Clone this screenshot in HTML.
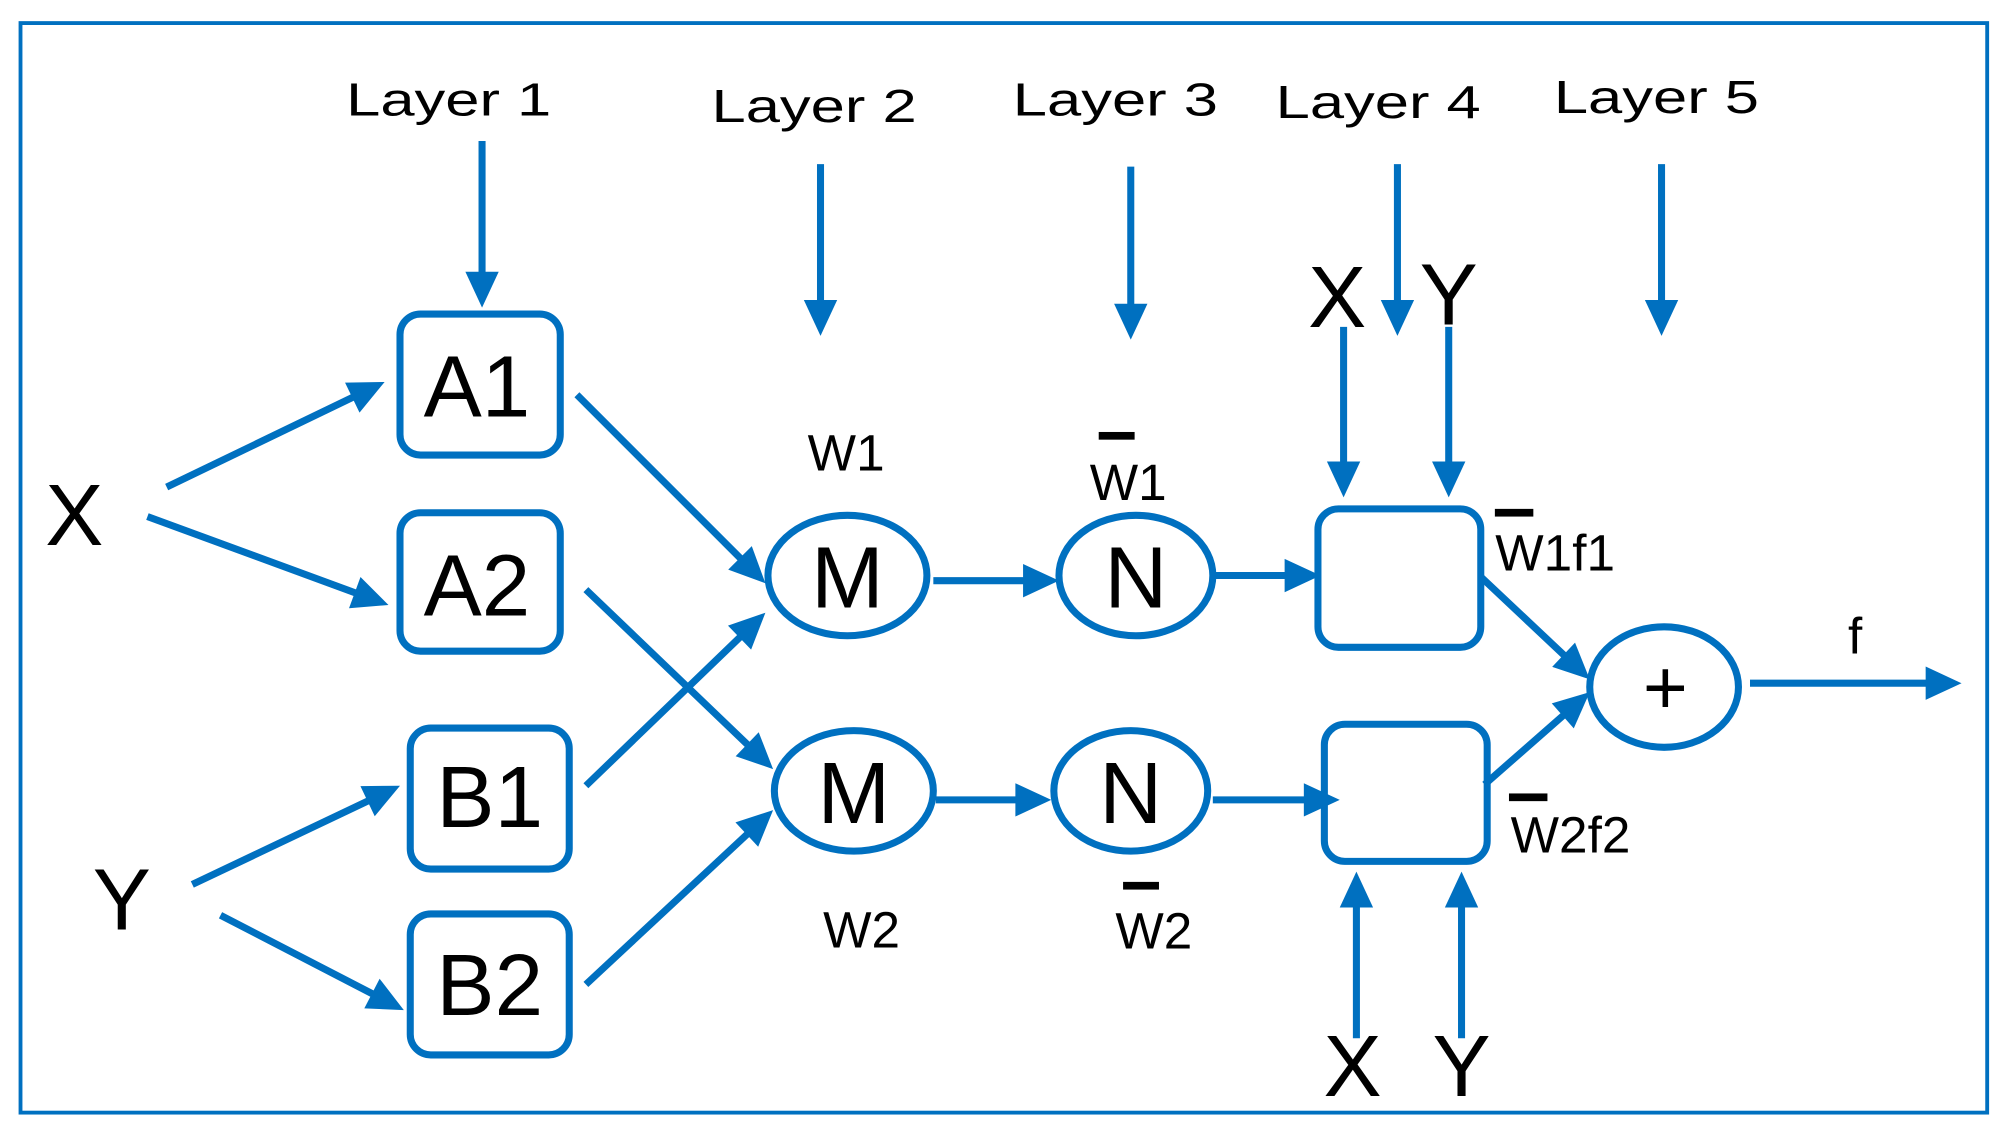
<!DOCTYPE html>
<html><head><meta charset="utf-8"><style>html,body{margin:0;padding:0;background:#fff}svg{display:block}</style></head>
<body>
<svg id="s" width="2000" height="1128" viewBox="0 0 1560 880" preserveAspectRatio="none" xmlns="http://www.w3.org/2000/svg">
<rect x="16" y="18" width="1534" height="850" fill="none" stroke="#0070c0" stroke-width="3"/>
<g font-family="Liberation Sans, sans-serif" fill="#000">
<text x="270" y="90" font-size="36" textLength="160" lengthAdjust="spacingAndGlyphs">Layer 1</text>
<text x="555" y="95" font-size="36" textLength="160" lengthAdjust="spacingAndGlyphs">Layer 2</text>
<text x="790" y="90" font-size="36" textLength="160" lengthAdjust="spacingAndGlyphs">Layer 3</text>
<text x="995" y="92" font-size="36" textLength="160" lengthAdjust="spacingAndGlyphs">Layer 4</text>
<text x="1212" y="88" font-size="36" textLength="160" lengthAdjust="spacingAndGlyphs">Layer 5</text>
</g>
<g id="arrows" stroke="#0070c0" stroke-width="5.5" fill="none"></g>
<g stroke="#0070c0" stroke-width="5.5" fill="none">
<rect x="312" y="245" width="125" height="110" rx="16"/>
<rect x="312" y="400" width="125" height="108" rx="16"/>
<rect x="320" y="568" width="124" height="110" rx="16"/>
<rect x="320" y="713" width="124" height="110" rx="16"/>
<rect x="1028" y="397" width="127" height="108" rx="16"/>
<rect x="1033" y="565" width="127" height="107" rx="16"/>
<ellipse cx="661" cy="449" rx="62" ry="47"/>
<ellipse cx="666" cy="617" rx="62" ry="47"/>
<ellipse cx="886" cy="449" rx="60" ry="47"/>
<ellipse cx="882" cy="617" rx="60" ry="47"/>
<ellipse cx="1298" cy="536" rx="58" ry="47"/>
</g>
<g font-family="Liberation Sans, sans-serif" fill="#000" text-anchor="middle">
<text x="372" y="325" font-size="68">A1</text>
<text x="372" y="480" font-size="68">A2</text>
<text x="382" y="645" font-size="68">B1</text>
<text x="382" y="792" font-size="68">B2</text>
<text x="661" y="474" font-size="68">M</text>
<text x="666" y="642" font-size="68">M</text>
<text x="886" y="474" font-size="68">N</text>
<text x="882" y="642" font-size="68">N</text>
<text x="58" y="425" font-size="68">X</text>
<text x="95" y="725" font-size="68">Y</text>
<text x="1043" y="255" font-size="68">X</text>
<text x="1130" y="253" font-size="68">Y</text>
<text x="1055" y="855" font-size="68">X</text>
<text x="1140" y="855" font-size="68">Y</text>
<text x="1299" y="557" font-size="60">+</text>
<text x="660" y="367" font-size="40">W1</text>
<text x="880" y="390" font-size="40">W1</text>
<text x="1213" y="445" font-size="40">W1f1</text>
<text x="1225" y="665" font-size="40">W2f2</text>
<text x="672" y="739" font-size="40">W2</text>
<text x="900" y="740" font-size="40">W2</text>
<text x="1447" y="510" font-size="40">f</text>
</g>
<g fill="#000">
<rect x="857" y="337" width="28" height="6"/>
<rect x="1166" y="397" width="30" height="6"/>
<rect x="1177" y="619" width="30" height="6"/>
<rect x="876" y="688" width="28" height="6"/>
</g>
</svg>
<script>
var L=[[376,110,376,240],[640,128,640,262],[882,130,882,265],[1090,128,1090,262],[1296,128,1296,262],
[130,380,300,298],[115,403,303,472],[150,690,312,613],[172,714,315,788],
[450,308,597,455],[457,460,603,600],[457,613,597,478],[457,768,603,632],
[728,453,826,453],[945,449,1030,449],[730,624,820,624],[946,624,1045,624],
[1048,255,1048,388],[1130,255,1130,388],[1058,810,1058,680],[1140,810,1140,680],
[1155,450,1240,530],[1158,612,1240,540],[1365,533,1530,533]];
var g=document.getElementById('arrows'),h='';
L.forEach(function(a){var dx=a[2]-a[0],dy=a[3]-a[1],d=Math.hypot(dx,dy),ux=dx/d,uy=dy/d,px=-uy,py=ux,len=28,w=13;
var bx=a[2]-ux*len,by=a[3]-uy*len;
h+='<line x1="'+a[0]+'" y1="'+a[1]+'" x2="'+(bx+ux*4)+'" y2="'+(by+uy*4)+'"/>';
h+='<polygon stroke="none" fill="#0070c0" points="'+a[2]+','+a[3]+' '+(bx+px*w)+','+(by+py*w)+' '+(bx-px*w)+','+(by-py*w)+'"/>';});
g.innerHTML=h;
</script>
</body></html>
